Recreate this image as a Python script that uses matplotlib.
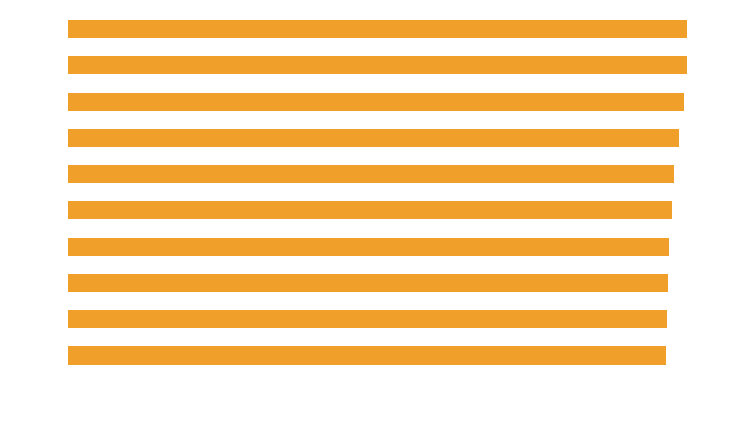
import matplotlib
matplotlib.use("Agg")
import matplotlib.pyplot as plt

categories = ["A", "B", "C", "D", "E", "F", "G", "H", "I", "J"]
values = [100.0, 100.0, 99.5, 98.7, 97.9, 97.6, 97.1, 96.9, 96.8, 96.6]

fig = plt.figure(figsize=(7.30, 4.36), dpi=100)
W, H = 730, 436
top, bottom = 10.9, 373.6
ax = fig.add_axes([68 / W, 1 - bottom / H, (687 - 68) / W, (bottom - top) / H])
ypos = list(range(len(categories)))
ax.barh(ypos, values, height=0.5, color="#F0A02A")
ax.set_xlim(0, max(values))
ax.set_ylim(len(categories) - 0.5, -0.5)
ax.axis("off")
fig.savefig("out.png", dpi=100, facecolor="white")
